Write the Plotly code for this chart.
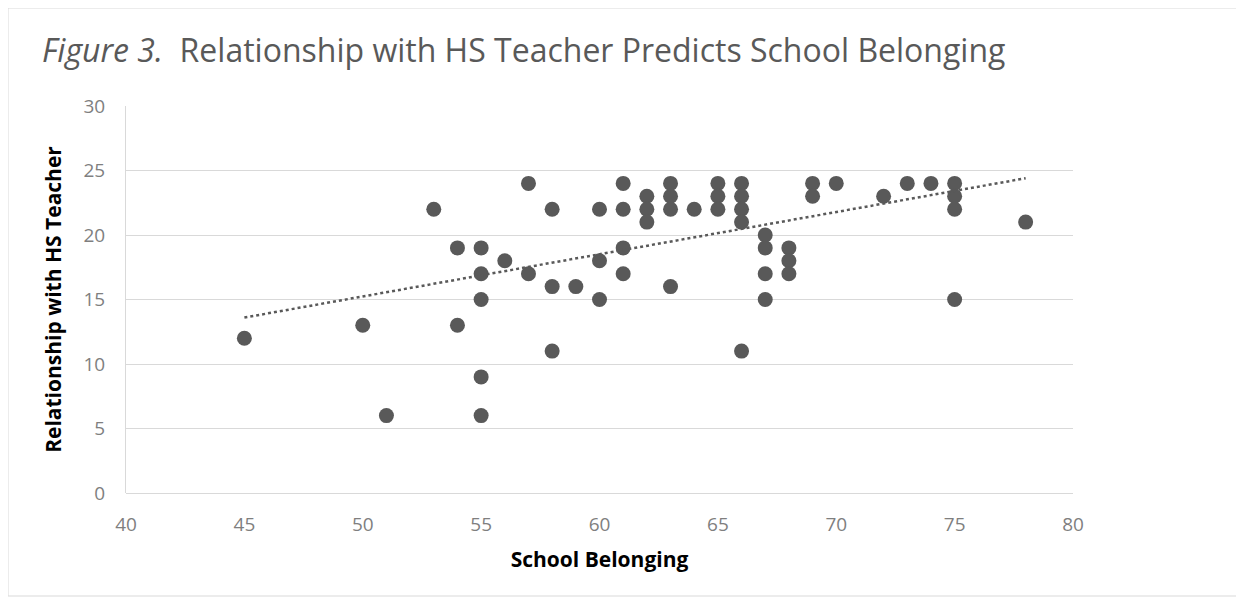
import plotly.graph_objects as go

school_belonging = [45, 50, 51, 53, 54, 54, 55, 55, 55, 55, 55, 56, 57, 57,
                    58, 58, 58, 59, 60, 60, 60, 61, 61, 61, 61, 62, 62, 62,
                    63, 63, 63, 63, 64, 65, 65, 65, 66, 66, 66, 66, 66,
                    67, 67, 67, 67, 68, 68, 68, 69, 69, 70, 72, 73, 74,
                    75, 75, 75, 75, 78]
hs_teacher = [12, 13, 6, 22, 19, 13, 19, 17, 15, 9, 6, 18, 24, 17,
              22, 16, 11, 16, 22, 18, 15, 24, 22, 19, 17, 23, 22, 21,
              24, 23, 22, 16, 22, 24, 23, 22, 24, 23, 22, 21, 11,
              20, 19, 17, 15, 19, 18, 17, 24, 23, 24, 23, 24, 24,
              24, 23, 22, 15, 21]

# Linear trendline endpoints
trend_x = [45, 78]
trend_y = [13.6, 24.4]

x_ticks = [40, 45, 50, 55, 60, 65, 70, 75, 80]
y_ticks = [0, 5, 10, 15, 20, 25, 30]

fig = go.Figure()
fig.add_trace(go.Scatter(
    x=school_belonging, y=hs_teacher, mode="markers",
    marker=dict(size=15, color="#595959"), showlegend=False,
))
fig.add_trace(go.Scatter(
    x=trend_x, y=trend_y, mode="lines",
    line=dict(color="#595959", width=2.5, dash="dot"), showlegend=False,
))

# page body has an 8px margin; compensate so the chart lands where the reference has it
L, T, PW, PH = 118, 98, 947, 387
W, H = 1244, 599

axis_font = dict(family="Open Sans, Calibri, sans-serif", size=19, color="#7f7f7f")
title_font = dict(family="Open Sans, Calibri, sans-serif", size=21, color="black")
fig.update_layout(
    width=W, height=H,
    paper_bgcolor="white", plot_bgcolor="white",
    margin=dict(l=L, r=W - L - PW, t=T, b=H - T - PH, autoexpand=False),
    title=dict(
        text="<i>Figure 3.</i>  Relationship with HS Teacher Predicts School Belonging",
        x=0, xref="paper", xanchor="left", y=1 - 43 / H, yanchor="middle",
        font=dict(family="Open Sans, sans-serif", size=32, color="#595959"),
        pad=dict(l=-(L - 34)),
    ),
    xaxis=dict(
        range=[40, 80], tickvals=x_ticks, ticktext=[str(v) for v in x_ticks],
        showgrid=False, zeroline=False, showline=False,
        tickfont=axis_font, ticks="outside", ticklen=14, tickcolor="rgba(0,0,0,0)",
        title=dict(text="<b>School Belonging</b>", font=title_font, standoff=16),
    ),
    yaxis=dict(
        range=[0, 30], tickvals=y_ticks, ticktext=[str(v) for v in y_ticks],
        showgrid=True, gridcolor="#d9d9d9", gridwidth=1,
        zeroline=True, zerolinecolor="#d9d9d9", zerolinewidth=1,
        showline=True, linecolor="#d9d9d9", linewidth=1,
        tickfont=axis_font, ticks="outside", ticklen=16, tickcolor="rgba(0,0,0,0)",
        title=dict(text="<b>Relationship with HS Teacher</b>", font=title_font, standoff=16),
    ),
    shapes=[dict(type="rect", xref="paper", yref="paper",
                 x0=-(L - 0) / PW, x1=(1231 - L) / PW,
                 y0=-(588 - (T + PH)) / PH, y1=(T + PH) / PH,
                 line=dict(color="#d9d9d9", width=1), fillcolor="rgba(0,0,0,0)", layer="below")],
)

fig.write_html("out.html")
